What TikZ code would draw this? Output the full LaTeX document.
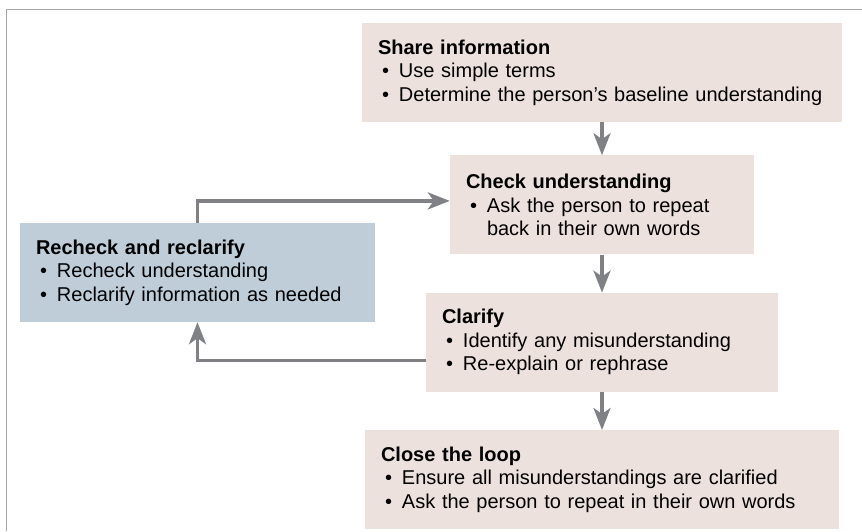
\documentclass[tikz,border=0pt]{standalone}
\usepackage{fontspec}
\setmainfont{Liberation Sans}
\usetikzlibrary{arrows.meta,positioning}

\definecolor{boxpink}{RGB}{237,225,221}
\definecolor{boxblue}{RGB}{191,205,217}
\definecolor{arrowgray}{RGB}{128,129,133}
\definecolor{framegray}{RGB}{166,166,166}

\newcommand{\itm}[1]{\hspace*{4pt}\makebox[17pt][l]{\textbullet}#1}
\newcommand{\cont}[1]{\hspace*{21pt}#1}

\tikzset{
  box/.style={fill=boxpink, inner xsep=16pt, inner ysep=6pt, minimum height=99pt,
    align=left, font=\fontsize{20}{23.5}\selectfont},
  flow/.style={draw=arrowgray, line width=3.5pt,
    -{Stealth[length=22pt,width=17pt,inset=6pt]}}
}

\begin{document}
\begin{tikzpicture}[x=1pt,y=-1pt]
  \useasboundingbox (0,0) rectangle (862,531);
  \draw[framegray, line width=1.5pt] (6.5,531) |- (862,9.5);

  \node[box, text width=448pt] (share) at (602,72.5)
    {\textbf{Share information}\\ \itm{Use simple terms}\\ \itm{Determine the person’s baseline understanding}};
  \node[box, text width=272pt, below = 33pt of share] (check)
    {\textbf{Check understanding}\\ \itm{Ask the person to repeat}\\ \cont{back in their own words}};
  \node[box, text width=320pt, below = 38pt of check] (clarify)
    {\textbf{Clarify}\\ \itm{Identify any misunderstanding}\\ \itm{Re-explain or rephrase}};
  \node[box, text width=442pt, below = 38pt of clarify] (close)
    {\textbf{Close the loop}\\ \itm{Ensure all misunderstandings are clarified}\\ \itm{Ask the person to repeat in their own words}};
  \node[box, fill=boxblue, text width=323pt] (recheck) at (197.5,272.5)
    {\textbf{Recheck and reclarify}\\ \itm{Recheck understanding}\\ \itm{Reclarify information as needed}};

  \draw[flow] (share) -- (check);
  \draw[flow] (check) -- (clarify);
  \draw[flow] (clarify) -- (close);
  % loop back through the recheck step
  \draw[flow] ([yshift=-18pt]clarify.west) -| (recheck.south);
  \draw[flow] (recheck.north) |- ([yshift=4pt]check.west);

\end{tikzpicture}
\end{document}
